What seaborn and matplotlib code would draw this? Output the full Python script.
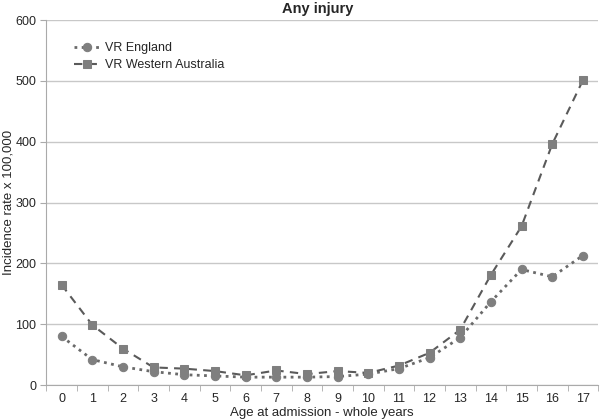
import numpy as np
import pandas as pd
import matplotlib
matplotlib.use("Agg")
import matplotlib.pyplot as plt
import seaborn as sns

ages = list(range(18))
england = [80, 42, 30, 22, 17, 15, 13, 13, 13, 14, 18, 27, 45, 78, 137, 190, 178, 213]
western_australia = [165, 99, 60, 29, 27, 23, 16, 24, 18, 23, 20, 32, 53, 91, 181, 261, 396, 501]

sns.set_style("white")
plt.rcParams["font.family"] = ["Liberation Sans", "DejaVu Sans"]

df = pd.DataFrame({"age": ages, "VR England": england,
                   "VR Western Australia": western_australia})

fig = plt.figure(figsize=(6, 4.19), dpi=100)
ax = fig.add_axes([0.077, 0.081, 0.92, 0.871])

grey = "#7f7f7f"
sns.lineplot(data=df, x="age", y="VR England", ax=ax, color="#6a6a6a",
             linestyle=(0, (1, 1.6)), linewidth=2, marker="o", markersize=6,
             markerfacecolor=grey, markeredgecolor=grey, label="VR England")
sns.lineplot(data=df, x="age", y="VR Western Australia", ax=ax, color="#5a5a5a",
             linestyle=(0, (4, 3)), linewidth=1.5, marker="s", markersize=6,
             markerfacecolor=grey, markeredgecolor=grey,
             label="VR Western Australia")

ax.set_xlim(-0.5, 17.5)
ax.set_ylim(0, 600)
ax.set_yticks(range(0, 601, 100))
ax.set_xticks(ages)
ax.set_xticks(np.arange(-0.5, 17.6, 1), minor=True)
ax.tick_params(axis="x", which="major", length=0, labelsize=9, pad=6)
ax.tick_params(axis="x", which="minor", length=4, color="#aaaaaa", bottom=True)
ax.tick_params(axis="y", length=4, color="#aaaaaa", labelsize=9, left=True, pad=3)
ax.yaxis.grid(True, color="#c8c8c8", linewidth=1)
for s in ["top", "right"]:
    ax.spines[s].set_visible(False)
for s in ["left", "bottom"]:
    ax.spines[s].set_color("#aaaaaa")

ax.set_xlabel("Age at admission - whole years", fontsize=9.5, labelpad=1)
ax.set_ylabel("Incidence rate x 100,000", fontsize=9.5)
ax.yaxis.set_label_coords(-0.058, 0.5)
fig.suptitle("Any injury", fontsize=10.5, fontweight="bold", x=0.53, y=0.995)

leg = ax.legend(loc="upper left", bbox_to_anchor=(0.03, 0.97), frameon=False,
                fontsize=9, handlelength=2.0, handletextpad=0.5, labelspacing=0.4)

fig.savefig("out.png", dpi=100)
